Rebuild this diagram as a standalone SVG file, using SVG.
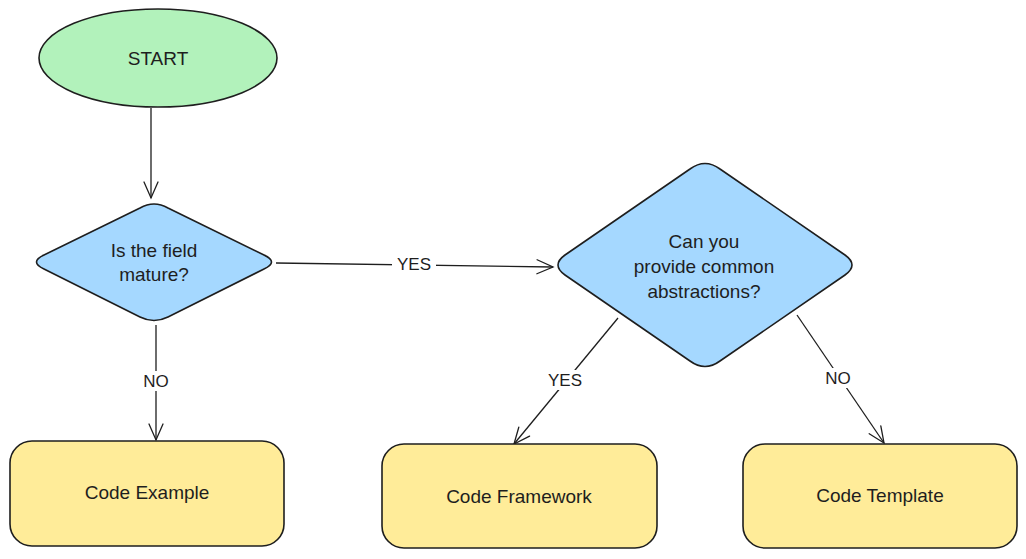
<svg xmlns="http://www.w3.org/2000/svg" width="1026" height="559" viewBox="0 0 1026 559">
<defs>
<marker id="arr" viewBox="0 0 20 20" refX="18" refY="10" markerWidth="20" markerHeight="20" markerUnits="userSpaceOnUse" orient="auto">
<path d="M2,3 L18,10 L2,17" fill="none" stroke="#1e1e1e" stroke-width="1.3" stroke-linecap="round"/>
</marker>
</defs>
<style>
.shape{stroke:#1e1e1e;stroke-width:1.6}
.t{font-family:"Liberation Sans",Arial,sans-serif;font-size:19px;fill:#1e1e1e;text-anchor:middle;dominant-baseline:central}
.c{fill:none;stroke:#1e1e1e;stroke-width:1.3}
.lbl{font-family:"Liberation Sans",Arial,sans-serif;font-size:17px;fill:#1e1e1e;text-anchor:middle;dominant-baseline:central}
</style>
<rect width="1026" height="559" fill="#ffffff"/>
<g id="connectors">
<path class="c" d="M151,108 L151,198" marker-end="url(#arr)"/>
<path class="c" d="M276,263 L553,267" marker-end="url(#arr)"/>
<rect x="392" y="254" width="44" height="20" fill="#ffffff"/>
<text class="lbl" x="414" y="264">YES</text>
<path class="c" d="M156,325 L156,440" marker-end="url(#arr)"/>
<rect x="140" y="371" width="32" height="20" fill="#ffffff"/>
<text class="lbl" x="156" y="381">NO</text>
<path class="c" d="M618,318 L514,444" marker-end="url(#arr)"/>
<rect x="543" y="370" width="44" height="20" fill="#ffffff"/>
<text class="lbl" x="565" y="380">YES</text>
<path class="c" d="M797,315 L884,443" marker-end="url(#arr)"/>
<rect x="822" y="368" width="32" height="20" fill="#ffffff"/>
<text class="lbl" x="838" y="378">NO</text>
</g>
<g id="start">
<ellipse class="shape" cx="158" cy="58" rx="119" ry="49" fill="#b2f2bb"/>
<text class="t" x="158" y="58">START</text>
</g>
<g id="field-mature">
<path class="shape" fill="#a5d8ff" d="M140,208 Q154,200 168,208 L264,255 Q279,262 264,269 L168,317 Q154,324 140,317 L44,269 Q29,262 44,255 Z"/>
<text class="t" x="154" y="250">Is the field</text>
<text class="t" x="154" y="274">mature?</text>
</g>
<g id="common-abstractions">
<path class="shape" fill="#a5d8ff" d="M690,169 Q705,158 720,169 L845,255 Q859,265 845,275 L720,361 Q705,372 690,361 L565,275 Q551,265 565,255 Z"/>
<text class="t" x="704" y="241">Can you</text>
<text class="t" x="704" y="266">provide common</text>
<text class="t" x="704" y="291">abstractions?</text>
</g>
<g id="code-example">
<rect class="shape" x="10" y="441" width="274" height="105" rx="22" fill="#ffec99"/>
<text class="t" x="147" y="492">Code Example</text>
</g>
<g id="code-framework">
<rect class="shape" x="382" y="444" width="275" height="104" rx="22" fill="#ffec99"/>
<text class="t" x="519" y="496">Code Framework</text>
</g>
<g id="code-template">
<rect class="shape" x="743" y="444" width="274" height="104" rx="22" fill="#ffec99"/>
<text class="t" x="880" y="495">Code Template</text>
</g>
</svg>
